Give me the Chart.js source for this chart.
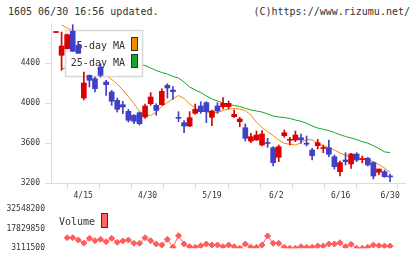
<!DOCTYPE html>
<html>
<head>
<meta charset="utf-8">
<script src="https://cdn.jsdelivr.net/npm/chart.js"></script>
<style>
  body{margin:0;background:#fff;}
  #wrap{position:relative;width:420px;height:259px;overflow:hidden;}
  #wrap canvas{position:absolute;left:0;top:0;}
  .hd{position:absolute;top:6px;font:10px "DejaVu Sans Mono",monospace;color:#333;white-space:pre;}
</style>
</head>
<body>
<div id="wrap">
  <div class="hd" style="left:8px">1605 06/30 16:56 updated.</div>
  <div class="hd" style="right:10px">(C)https://www.rizumu.net/</div>
  <canvas id="price" width="420" height="259"></canvas>
  <canvas id="vol" width="420" height="259"></canvas>
</div>
<script>
// daily candles, oldest first
const opens  = [4705,4477,4543,4717,4577,4050,4277,4243,4360,4210,4110,4027,3983,3917,3877,3903,3860,3993,3977,3983,
                4177,4130,3850,3803,3770,3897,3970,4003,3857,3970,3963,3963,3863,3813,3753,3620,3630,3580,3600,3553,
                3457,3673,3627,3630,3653,3592,3530,3573,3545,3553,3463,3313,3430,3390,3490,3435,3447,3403,3307,3313,3265];
const highs  = [4712,4710,4690,4783,4617,4310,4280,4260,4393,4227,4127,4050,4017,3937,3883,3910,3990,4103,3993,4143,
                4193,4163,3913,3823,3913,3990,4013,4013,3930,4003,4053,4020,3930,3857,3790,3697,3720,3723,3647,3563,
                3580,3730,3657,3720,3690,3670,3547,3637,3580,3630,3480,3420,3503,3497,3503,3470,3457,3413,3340,3330,3290];
const lows   = [4705,4327,4540,4517,4497,4030,4160,4110,4260,4077,3977,3910,3893,3810,3793,3780,3847,3977,3877,3977,
                4050,4037,3813,3703,3763,3887,3897,3803,3773,3897,3940,3940,3853,3763,3620,3603,3627,3570,3557,3370,
                3413,3657,3580,3613,3597,3570,3430,3540,3503,3463,3340,3270,3380,3347,3413,3403,3370,3240,3280,3257,3213];
const closes = [4710,4570,4683,4517,4497,4200,4227,4143,4277,4183,4017,3937,3960,3827,3817,3793,3970,4060,3927,4117,
                4150,4113,3847,3770,3853,3937,3913,3913,3920,3920,3997,3997,3887,3840,3647,3663,3680,3690,3595,3403,
                3563,3703,3632,3680,3630,3588,3473,3603,3549,3487,3363,3403,3413,3490,3430,3439,3380,3270,3340,3263,3261];
const ma5  = [null,4780,4750,4725,4650,4560,4470,4390,4330,4275,4235,4190,4130,4065,3995,3915,3880,3875,3910,3965,
              4005,4043,4075,4045,3990,3950,3920,3910,3900,3905,3925,3940,3945,3940,3923,3880,3810,3755,3715,3675,
              3630,3597,3588,3580,3605,3635,3630,3600,3570,3555,3530,3500,3477,3457,3447,3437,3427,3415,3385,3350,3307];
const ma25 = [null,4340,4355,4370,4385,4395,4400,4405,4410,4410,4405,4400,4395,4390,4388,4385,4375,4350,4325,4305,
              4290,4265,4250,4210,4160,4130,4105,4070,4040,4020,4000,3985,3975,3965,3947,3930,3920,3910,3890,3870,
              3860,3855,3845,3830,3817,3797,3770,3750,3737,3723,3705,3683,3665,3650,3635,3613,3598,3573,3545,3512,3503];
const volumes = [null,null,11050000,11050000,9330000,7080000,10600000,8800000,9850000,8050000,10600000,7600000,8580000,9330000,6860000,6860000,11050000,8800000,6330000,5580000,
                 9850000,3860000,12550000,6330000,4310000,3860000,5060000,6330000,5580000,5580000,4310000,5580000,4310000,3111500,6330000,3860000,3860000,5580000,12320000,6860000,
                 6860000,3860000,3200000,3200000,4310000,3860000,3860000,4830000,4830000,6330000,6330000,7300000,4310000,6100000,3111500,3111500,3860000,5580000,5060000,4830000,4830000];

const priceTicks = [3200, 3600, 4000, 4400];
const volTicks = [3111500, 17829850, 32548200];
// x ticks in candle-index units, and their labels
const xTickVals = [-0.9, 4.88, 10.66, 16.44, 22.22, 28.0, 33.78, 39.56, 45.34, 51.12, 56.9, 60, 62.68];
const xTickLabels = ['', '4/15', '', '4/30', '', '5/19', '', '6/2', '', '6/16', '', '6/30', ''];

const RED = '#dc0000', BLUE = '#4040c6', ORANGE = '#f08c00', GREEN = '#14a82a', VOLC = '#ff5c5c';
const MONO = '"DejaVu Sans Mono", monospace';
const X_MIN = -0.9, X_MAX = 62.68;

const candleColor = i => closes[i] >= opens[i] ? RED : BLUE;

const wicks = highs.map((h, i) => ({x: i, y: [lows[i], h]}));
const bodies = opens.map((o, i) => ({x: i, y: [o, closes[i]]}));
const ma5Pts = ma5.map((v, i) => ({x: i, y: v}));
const ma25Pts = ma25.map((v, i) => ({x: i, y: v}));
const volPts = volumes.map((v, i) => ({x: i, y: v}));

// legend box drawn over the MA lines but under the candles
const maLegend = {
  id: 'maLegend',
  afterDatasetDraw(chart, args) {
    if (chart.data.datasets[args.index].label !== '5-day MA') return;
    const ctx = chart.ctx;
    ctx.save();
    ctx.fillStyle = '#fff';
    ctx.fillRect(65, 30, 78, 47);
    ctx.strokeStyle = '#d8d8d8';
    ctx.lineWidth = 1.5;
    ctx.strokeRect(65.5, 30.5, 77, 46);
    ctx.font = '10px ' + MONO;
    ctx.fillStyle = '#333';
    ctx.textAlign = 'right';
    ctx.textBaseline = 'middle';
    ctx.fillText('5-day MA', 125, 46);
    ctx.fillText('25-day MA', 125, 63);
    ctx.lineWidth = 1;
    ctx.strokeStyle = '#333';
    ctx.fillStyle = ORANGE;
    ctx.fillRect(131.5, 37.5, 6, 13);
    ctx.strokeRect(131.5, 37.5, 6, 13);
    ctx.fillStyle = GREEN;
    ctx.fillRect(131.5, 54.5, 6, 13);
    ctx.strokeRect(131.5, 54.5, 6, 13);
    ctx.restore();
  }
};

new Chart(document.getElementById('price'), {
  type: 'bar',
  data: {
    datasets: [
      {type: 'line', label: '25-day MA', data: ma25Pts, borderColor: GREEN, borderWidth: 1, pointRadius: 0, order: 4},
      {type: 'line', label: '5-day MA', data: ma5Pts, borderColor: ORANGE, borderWidth: 1, pointRadius: 0, order: 3},
      {label: 'wick', data: wicks, barThickness: 1, grouped: false, order: 2,
       backgroundColor: c => candleColor(c.dataIndex)},
      {label: 'body', data: bodies, barThickness: 5, grouped: false, minBarLength: 1, order: 1,
       backgroundColor: c => candleColor(c.dataIndex)}
    ]
  },
  options: {
    responsive: false,
    animation: false,
    devicePixelRatio: 1,
    layout: {padding: {top: 23, right: 15, bottom: 56, left: 0}},
    plugins: {legend: {display: false}, tooltip: {enabled: false}},
    scales: {
      x: {
        type: 'linear', min: X_MIN, max: X_MAX, offset: false, bounds: 'data',
        afterBuildTicks: axis => { axis.ticks = xTickVals.map(v => ({value: v})); },
        afterFit: axis => { axis.height = 20; },
        grid: {drawOnChartArea: false, tickLength: 6,
               color: c => (c.tick && c.tick.value === 60) ? 'rgba(0,0,0,0)' : '#dcdcdc'},
        border: {color: '#dcdcdc'},
        ticks: {autoSkip: false, maxRotation: 0, padding: 2, color: '#333',
                font: {family: MONO, size: 8},
                callback: (v, i) => xTickLabels[i]}
      },
      y: {
        min: 3200, max: 4800, bounds: 'data',
        afterBuildTicks: axis => { axis.ticks = priceTicks.map(v => ({value: v})); },
        afterFit: axis => { axis.width = 51; },
        grid: {drawOnChartArea: false, tickLength: 6, color: '#dcdcdc'},
        border: {color: '#dcdcdc'},
        ticks: {padding: 5, color: '#333', font: {family: MONO, size: 8},
                callback: v => String(v)}
      }
    }
  },
  plugins: [maLegend]
});

const volLegend = {
  id: 'volLegend',
  afterDraw(chart) {
    const ctx = chart.ctx;
    ctx.save();
    ctx.font = '10px ' + MONO;
    ctx.fillStyle = '#333';
    ctx.textBaseline = 'middle';
    ctx.fillText(chart.data.datasets[0].label, 59, 222);
    ctx.fillStyle = '#ff6464';
    ctx.strokeStyle = '#333';
    ctx.lineWidth = 1;
    ctx.fillRect(101.5, 213.5, 6, 14);
    ctx.strokeRect(101.5, 213.5, 6, 14);
    ctx.restore();
  }
};

new Chart(document.getElementById('vol'), {
  type: 'line',
  data: {
    datasets: [{label: 'Volume', data: volPts, borderColor: VOLC, backgroundColor: VOLC,
                borderWidth: 1, pointStyle: 'rectRot', pointRadius: 3, pointBorderWidth: 1}]
  },
  options: {
    responsive: false,
    animation: false,
    devicePixelRatio: 1,
    layout: {padding: {top: 209, right: 15, bottom: 10.7, left: 0}},
    plugins: {legend: {display: false}, tooltip: {enabled: false}},
    scales: {
      x: {type: 'linear', min: X_MIN, max: X_MAX, display: false},
      y: {
        min: volTicks[0], max: volTicks[2], bounds: 'data',
        afterBuildTicks: axis => { axis.ticks = volTicks.map(v => ({value: v})); },
        afterFit: axis => { axis.width = 51; },
        grid: {display: false},
        border: {display: false},
        ticks: {padding: -2, color: '#333', font: {family: MONO, size: 8},
                callback: v => String(v)}
      }
    }
  },
  plugins: [volLegend]
});
</script>
</body>
</html>
